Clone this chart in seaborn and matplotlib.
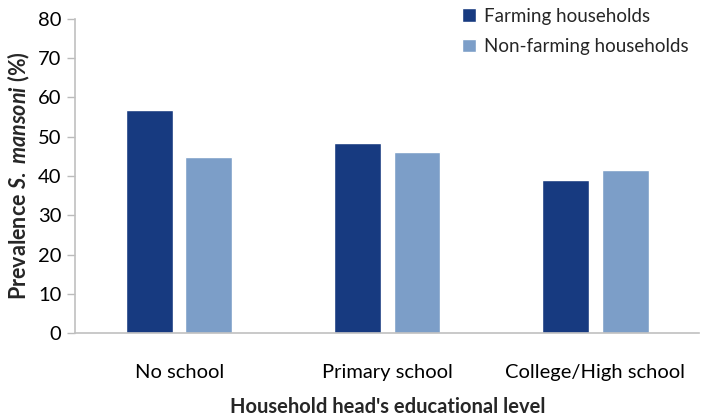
import pandas as pd
import matplotlib.pyplot as plt
import seaborn as sns

levels = ['No school', 'Primary school', 'College/High school']
groups = ['Farming households', 'Non-farming households']
farming = [56.8, 48.4, 39.0]
non_farming = [44.8, 46.1, 41.5]

df = pd.DataFrame({
    'level': levels * 2,
    'group': [groups[0]] * 3 + [groups[1]] * 3,
    'prevalence': farming + non_farming,
})

sns.set_theme(style="white")
plt.rcParams['font.family'] = ['Lato', 'DejaVu Sans']
plt.rcParams['mathtext.fontset'] = 'custom'
plt.rcParams['mathtext.it'] = 'Lato:bold:italic'
plt.rcParams['mathtext.rm'] = 'Lato:bold'

fig = plt.figure(figsize=(7.03, 4.2), dpi=100)
ax = fig.add_axes([0.107, 0.207, 0.888, 0.748])

sns.barplot(data=df, x='level', y='prevalence', hue='group', order=levels,
            hue_order=groups, palette=['#173A80', '#7C9EC8'], width=0.57,
            gap=0.21, saturation=1, ax=ax)

ax.set_ylim(0, 80)
ax.set_yticks(range(0, 81, 10))
ax.set_xlim(-0.5, 2.5)
ax.tick_params(axis='y', labelsize=14.5, colors='#bbbbbb', length=6, width=1, labelcolor='black', pad=4, left=True)
ax.tick_params(axis='x', labelsize=14.5, length=0, pad=22, labelcolor='black')
for s in ['top', 'right']:
    ax.spines[s].set_visible(False)
for s in ['left', 'bottom']:
    ax.spines[s].set_color('#c0c0c0')
    ax.spines[s].set_linewidth(1.2)

ax.set_xlabel("Household head's educational level", fontsize=14.5, fontweight='bold', labelpad=12)
ax.set_ylabel(r'Prevalence $S.\ mansoni$ (%)', fontsize=15.5, fontweight='bold', labelpad=4)

ax.legend(loc='upper left', bbox_to_anchor=(0.605, 1.065), frameon=False, fontsize=13.5,
          borderpad=0, handlelength=0.75, handleheight=0.75, handletextpad=0.4,
          labelspacing=0.7)

fig.savefig('out.png', dpi=100)
